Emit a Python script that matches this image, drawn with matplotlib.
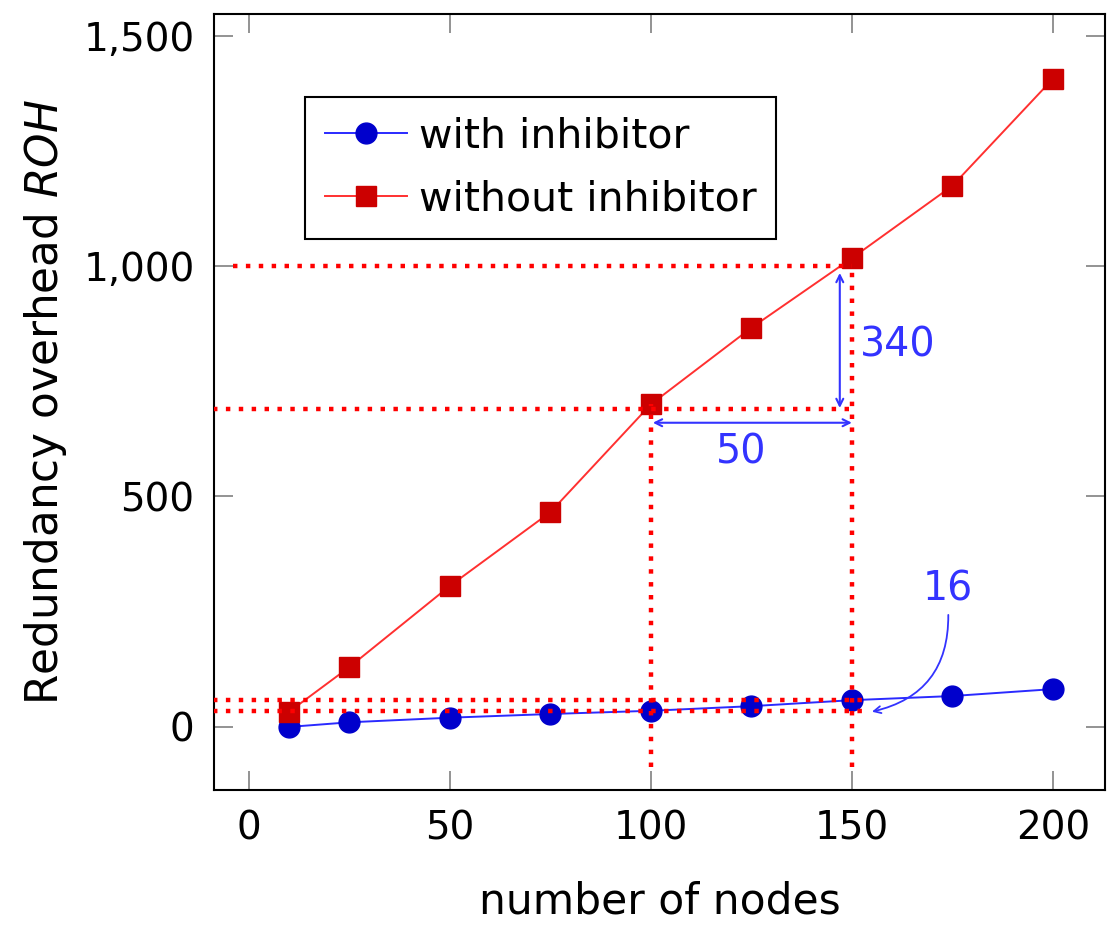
import matplotlib
matplotlib.use("Agg")
import matplotlib.pyplot as plt
from matplotlib.ticker import FuncFormatter

plt.rcParams['font.family'] = ['DejaVu Sans']

# data
nodes = [10, 25, 50, 75, 100, 125, 150, 175, 200]
with_inhibitor = [0, 10, 20, 28, 35, 45, 58, 67, 82]
without_inhibitor = [33, 130, 306, 466, 700, 866, 1017, 1174, 1406]

x_ticks = [0, 50, 100, 150, 200]
y_ticks = [0, 500, 1000, 1500]

# reference (dotted) guide lines
h_guides = [(1000, -4, 150), (690, -9, 150), (58, -9, 153), (35, -9, 153)]
v_guides = [(100, -87, 700), (150, -87, 1000)]

fig = plt.figure(figsize=(11.17, 9.25), dpi=100)
ax = fig.add_axes([0.1916, 0.1459, 0.7977, 0.839])

blue_line = '#2a2aff'
blue_mark = '#0000cc'
red_line = '#ff3030'
red_mark = '#cc0000'
guide_red = '#ff0000'
ann_blue = '#3333ff'

ax.plot(nodes, with_inhibitor, color=blue_line, lw=1.4, marker='o', ms=15,
        mfc=blue_mark, mec=blue_mark, label='with inhibitor', zorder=3)
ax.plot(nodes, without_inhibitor, color=red_line, lw=1.4, marker='s', ms=15,
        mfc=red_mark, mec=red_mark, label='without inhibitor', zorder=3)

for y, x0, x1 in h_guides:
    ax.plot([x0, x1], [y, y], color=guide_red, lw=3.2, dashes=(1, 1.9), zorder=4,
            solid_capstyle='butt', dash_capstyle='butt')
for x, y0, y1 in v_guides:
    ax.plot([x, x], [y0, y1], color=guide_red, lw=3.2, dashes=(1, 1.9), zorder=4,
            solid_capstyle='butt', dash_capstyle='butt')

# annotations
arrow_kw = dict(arrowstyle='<->,head_length=0.5,head_width=0.25', color=ann_blue, lw=1.5,
                shrinkA=0, shrinkB=0)
ax.annotate('', xy=(147, 985), xytext=(147, 692), arrowprops=arrow_kw, zorder=5)
ax.annotate('', xy=(100.5, 660), xytext=(150, 660), arrowprops=arrow_kw, zorder=5)
ax.text(152, 828, '340', color=ann_blue, fontsize=28.5, ha='left', va='center', zorder=5)
ax.text(122.5, 595, '50', color=ann_blue, fontsize=28.5, ha='center', va='center', zorder=5)
ax.text(174, 298, '16', color=ann_blue, fontsize=28.5, ha='center', va='center', zorder=5)
ax.annotate('', xy=(155, 33), xytext=(174, 243),
            arrowprops=dict(arrowstyle='->,head_length=0.5,head_width=0.25', color=ann_blue,
                            lw=1.3, shrinkA=0, shrinkB=0,
                            connectionstyle='arc3,rad=-0.4'), zorder=5)

ax.set_xlim(-8.7, 213)
ax.set_ylim(-137, 1547)
ax.set_xticks(x_ticks)
ax.set_yticks(y_ticks)
ax.yaxis.set_major_formatter(FuncFormatter(lambda v, p: f'{v:,.0f}'))
ax.tick_params(direction='in', length=14, width=1.2, color='#808080',
               top=True, right=True, labelsize=28, pad=14)
for s in ax.spines.values():
    s.set_linewidth(1.5)

ax.set_xlabel('number of nodes', fontsize=30.5, labelpad=24)
ax.set_ylabel('Redundancy overhead $\\mathit{ROH}$', fontsize=31.5, labelpad=10)

leg = ax.legend(loc='upper left', bbox_to_anchor=(0.102, 0.893), fontsize=29.5,
                frameon=True, fancybox=False, edgecolor='black', framealpha=1,
                handlelength=2.0, handletextpad=0.3, borderpad=0.48, labelspacing=0.55,
                borderaxespad=0)
leg.get_frame().set_linewidth(1.5)

fig.savefig('out.png', dpi=100)
